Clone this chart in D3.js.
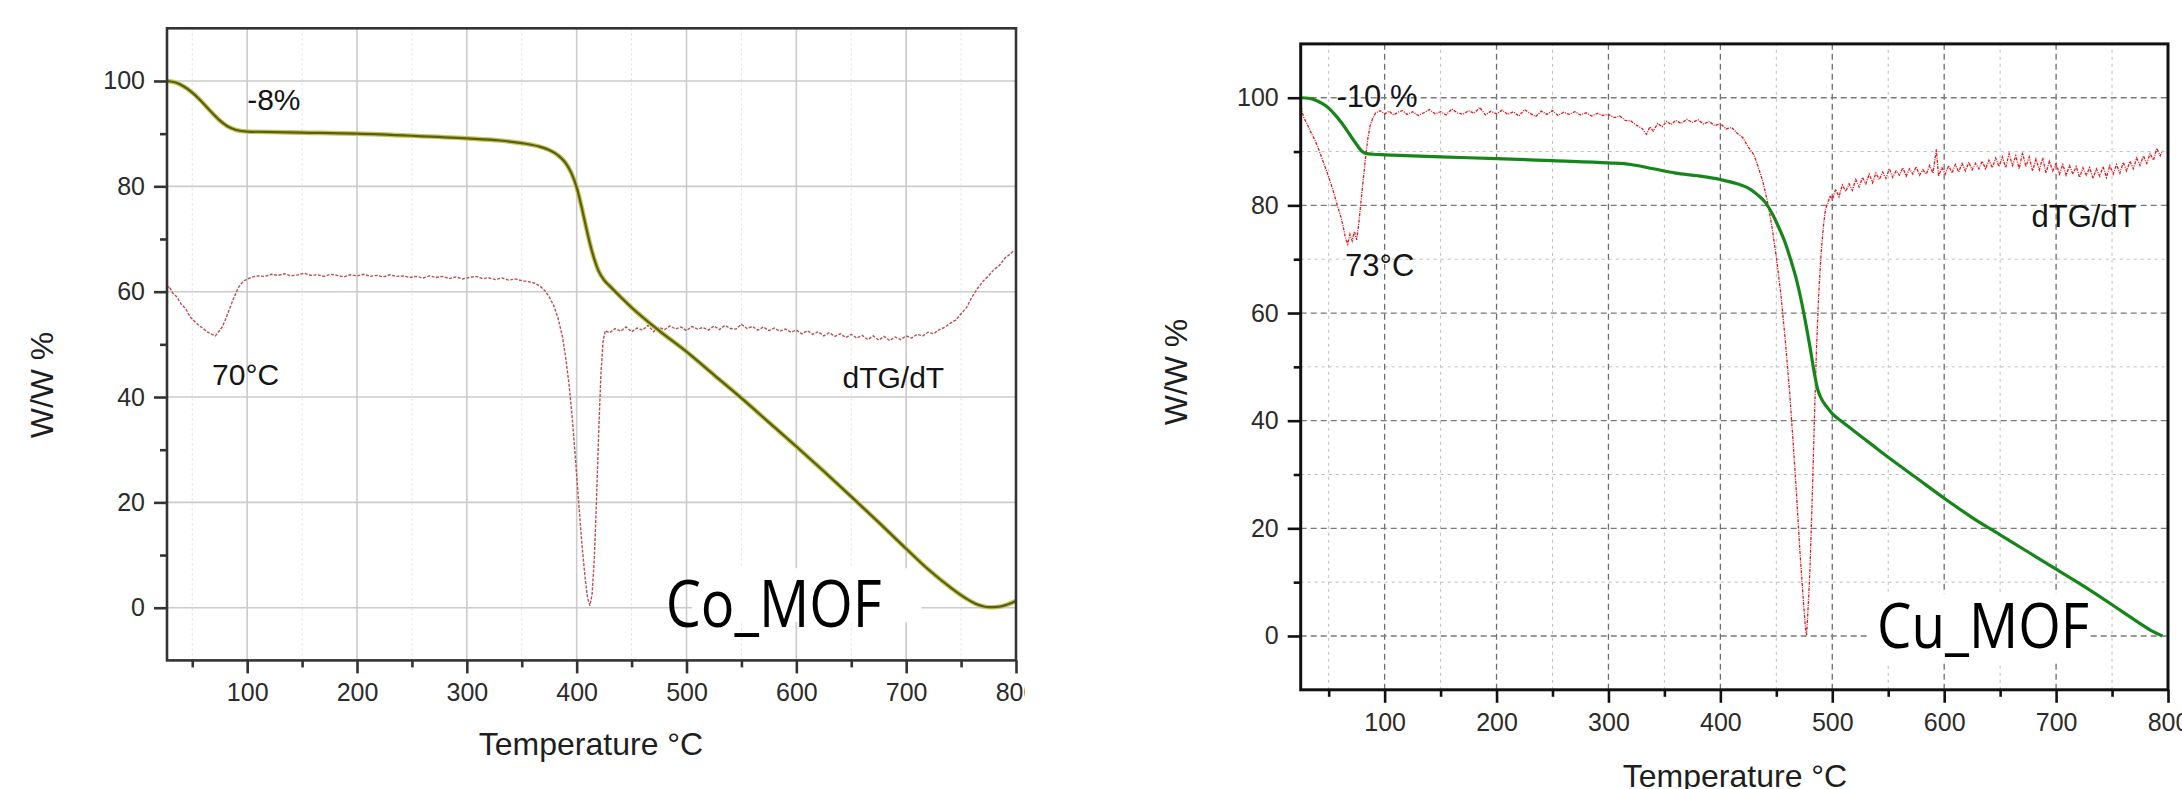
<!DOCTYPE html>
<html>
<head>
<meta charset="utf-8">
<script src="https://cdn.jsdelivr.net/npm/d3@7"></script>
<style>
  html, body { margin: 0; padding: 0; background: #fff; }
  svg { display: block; }
</style>
</head>
<body>
<div id="app"></div>
<script>
// ---- data ----
const xMajor = [100, 200, 300, 400, 500, 600, 700, 800]
const xMinor = [50, 150, 250, 350, 450, 550, 650, 750]
const yMajor = [0, 20, 40, 60, 80, 100]
const yMinor = [10, 30, 50, 70, 90]

// Co_MOF weight loss (T in C, W/W %)
const coTG = [[27,100],[35,99.7],[42,99.0],[50,97.8],[58,96.2],[66,94.4],[74,92.7],[82,91.4],[90,90.7],[100,90.4],[125,90.3],[150,90.2],[200,90.0],[250,89.6],[300,89.1],[330,88.7],[350,88.2],[365,87.6],[375,86.9],[383,85.9],[390,84.4],[395,82.6],[400,79.8],[404,76.5],[408,72.8],[412,69.2],[416,66.2],[420,63.9],[425,62.2],[430,61.1],[440,59.0],[450,57.0],[475,52.6],[500,48.6],[525,44.2],[550,39.8],[575,35.2],[600,30.6],[625,25.9],[650,21.1],[675,16.2],[700,11.2],[720,7.3],[740,3.9],[755,1.7],[765,0.6],[775,0.1],[785,0.2],[792,0.6],[800,1.3]]

// Co_MOF derivative curve (scaled onto the same axis)
const coDTG = [[27,60.6],[29,61.0],[32,59.8],[36,59.0],[40,57.6],[44,56.8],[48,55.2],[52,54.4],[56,53.6],[60,53.0],[64,52.3],[68,51.9],[71,51.6],[74,52.4],[77,53.2],[80,54.6],[84,56.8],[88,58.9],[92,60.8],[96,61.9],[100,62.4],[105,62.8],[110,63.0],[116,62.9],[122,63.3],[128,63.1],[134,63.4],[140,63.0],[146,63.2],[152,63.5],[158,63.1],[164,63.2],[170,62.9],[176,63.3],[182,63.1],[188,62.8],[194,63.2],[200,63.0],[206,63.3],[212,62.9],[218,63.1],[224,62.8],[230,63.2],[236,62.9],[242,63.0],[248,62.7],[254,62.9],[260,62.6],[266,63.0],[272,62.7],[278,62.9],[284,62.5],[290,62.8],[296,62.4],[302,62.7],[308,62.9],[314,62.5],[320,62.6],[326,62.3],[332,62.6],[338,62.2],[344,62.4],[350,62.1],[356,61.9],[362,61.6],[367,61.0],[371,60.2],[375,59.0],[379,57.4],[383,55.0],[387,51.5],[390,47.5],[393,42.5],[396,36.0],[399,28.0],[402,19.5],[405,11.5],[408,5.0],[410,1.8],[412,0.4],[414,2.5],[416,9.0],[418,20.0],[420,33.0],[422,44.0],[424,50.5],[426,52.6],[430,52.2],[435,53.0],[440,52.5],[445,53.3],[450,52.4],[455,53.1],[460,52.7],[465,53.6],[470,52.4],[475,53.2],[480,52.8],[485,53.5],[490,52.9],[495,53.3],[500,52.6],[505,53.4],[510,52.9],[515,53.2],[520,52.7],[525,53.5],[530,52.8],[535,53.6],[540,53.0],[545,52.9],[550,53.8],[555,53.0],[560,53.4],[565,52.7],[570,53.3],[575,52.6],[580,53.1],[585,52.5],[590,52.9],[595,52.3],[600,52.7],[605,52.0],[610,52.6],[615,51.9],[620,52.4],[625,51.6],[630,52.2],[635,51.5],[640,52.0],[645,51.3],[650,51.9],[655,51.2],[660,51.7],[665,50.9],[670,51.6],[675,50.8],[680,51.5],[685,50.7],[690,51.4],[695,50.9],[700,51.6],[705,51.2],[710,51.9],[715,51.6],[720,52.3],[725,52.0],[730,52.8],[735,53.2],[740,54.0],[745,54.6],[750,55.8],[755,57.0],[760,59.0],[765,60.6],[770,62.0],[775,63.0],[780,64.2],[785,65.0],[790,66.4],[795,67.2],[798,67.8]]

// Cu_MOF weight loss
const cuTG = [[25,100],[32,99.9],[40,99.4],[48,98.4],[55,97.0],[62,95.2],[68,93.4],[74,91.6],[80,90.0],[84,89.6],[90,89.5],[100,89.4],[150,89.0],[200,88.7],[250,88.3],[300,87.9],[320,87.6],[340,86.8],[360,86.0],[380,85.5],[400,84.8],[415,84.0],[425,83.2],[433,82.0],[440,80.6],[446,78.6],[452,76.0],[458,73.0],[463,69.8],[468,66.2],[472,62.6],[476,58.4],[480,53.8],[484,48.8],[487,45.8],[490,44.2],[495,42.6],[500,41.3],[510,39.6],[520,38.0],[535,35.6],[550,33.2],[575,29.4],[600,25.6],[625,22.0],[650,18.8],[675,15.6],[700,12.4],[725,9.2],[750,5.8],[770,3.0],[785,1.0],[795,0]]

// Cu_MOF derivative curve
const cuDTG = [[25,99.5],[26,97.5],[28,96.2],[31,95.0],[34,93.6],[37,92.4],[40,91.0],[43,89.3],[46,87.6],[49,85.9],[52,84.0],[55,82.0],[58,79.8],[61,77.8],[63,76.0],[65,74.0],[67,72.8],[69,74.6],[71,73.4],[73,75.2],[75,73.6],[77,76.8],[79,81.0],[81,85.0],[83,89.0],[85,92.4],[87,94.8],[89,96.0],[92,97.2],[96,97.6],[100,97.0],[104,97.5],[108,96.8],[112,97.3],[116,97.6],[120,96.9],[125,97.4],[130,96.7],[135,97.2],[140,97.8],[145,97.0],[150,97.4],[155,96.8],[160,97.9],[165,97.2],[170,96.9],[175,97.6],[180,97.1],[185,98.2],[190,96.8],[195,97.5],[200,97.0],[205,97.7],[210,96.9],[215,97.4],[220,96.6],[225,97.8],[230,97.1],[235,96.5],[240,97.5],[245,96.9],[250,97.6],[255,96.7],[260,97.3],[265,96.9],[270,97.4],[275,96.8],[280,97.2],[285,96.6],[290,97.1],[295,96.7],[300,96.9],[305,96.3],[310,96.6],[315,95.8],[320,95.7],[325,94.9],[330,94.3],[334,93.2],[337,94.6],[340,93.8],[344,95.2],[348,94.6],[352,95.6],[356,95.0],[360,95.8],[365,95.2],[370,96.0],[375,95.4],[380,95.9],[385,95.1],[390,95.6],[395,94.8],[400,95.2],[405,94.2],[410,94.5],[415,93.4],[420,92.6],[425,90.8],[430,89.4],[434,87.0],[438,84.4],[442,80.8],[446,76.2],[450,70.4],[454,63.6],[458,55.0],[462,45.0],[465,36.0],[468,26.5],[471,16.0],[474,7.0],[476,1.5],[477,0.2],[478,3.5],[480,12.0],[482,25.0],[484,40.0],[486,54.0],[488,64.0],[490,71.0],[492,76.0],[494,79.4],[496,80.4],[498,81.8],[500,81.0],[503,83.0],[506,81.6],[509,83.8],[512,82.6],[515,84.0],[518,82.8],[521,84.8],[524,83.4],[527,85.2],[530,84.0],[533,85.8],[536,84.2],[539,86.0],[542,84.8],[545,86.2],[548,85.0],[551,86.8],[554,85.2],[557,86.4],[560,85.6],[563,87.0],[566,85.4],[569,86.8],[572,85.8],[575,87.2],[578,85.6],[581,86.6],[584,85.8],[587,87.4],[590,86.0],[593,90.4],[595,85.4],[598,87.0],[601,85.8],[604,87.4],[607,86.0],[610,87.6],[613,86.2],[616,87.8],[619,86.4],[622,88.0],[625,86.6],[628,87.8],[631,86.8],[634,88.2],[637,86.8],[640,88.4],[643,87.0],[646,88.8],[649,87.2],[652,89.0],[655,87.0],[658,89.6],[661,87.4],[664,89.2],[667,86.8],[670,89.8],[673,87.2],[676,89.0],[679,86.4],[682,88.6],[685,86.6],[688,88.8],[691,86.0],[694,88.2],[697,86.4],[700,87.8],[703,85.8],[706,87.6],[709,85.6],[712,87.4],[715,85.8],[718,87.2],[721,85.2],[724,87.0],[727,85.6],[730,87.0],[733,85.0],[736,86.8],[739,85.4],[742,87.2],[745,85.2],[748,87.4],[751,85.8],[754,87.6],[757,86.0],[760,88.0],[763,86.4],[766,88.2],[769,86.8],[772,88.8],[775,87.4],[778,89.2],[781,87.8],[784,89.6],[787,88.4],[790,90.6],[793,89.2],[795,90.2]]

// annotations: [text, T, W/W %]
const coNotes = [['-8%', 100, 94.4], ['70°C', 68, 42.3], ['dTG/dT', 642, 41.7]]
const cuNotes = [['-10 %', 57, 98.3], ['73°C', 64.6, 66.9], ['dTG/dT', 678, 76.0]]
const coName = ['Co_MOF', 481, -3.7]
const cuName = ['Cu_MOF', 540, -2.2]
const coMask = [505, 714, 7.5, -2.7]
const cuMask = [531, 728, 7.8, -4.8]

const W = 2182, H = 789
const svg = d3.select('#app').append('svg').attr('width', W).attr('height', H)

const panels = [
  {
    name: 'co', xDom: [27, 800], xRange: [167, 1016], yRange: [660.4, 28.3], clipW: 1025,
    tg: coTG, dtg: coDTG, notes: coNotes, label: coName, mask: coMask,
    tgUnder: '#c2c458', tgColor: '#5a5e10', tgWidth: 2.2,
    dtgColor: '#b9505c', dtgDash: '3,1.5', dtgWidth: 1.4,
    axisColor: '#333', axisWidth: 2.6,
    grid: 'solid', yTitle: [42, 385], xTitle: [591, 755],
    noteSize: 30, labelSize: 66, labelLen: 216
  },
  {
    name: 'cu', xDom: [25, 800], xRange: [1300.7, 2168], yRange: [689.8, 43.9], clipW: W,
    tg: cuTG, dtg: cuDTG, notes: cuNotes, label: cuName, mask: cuMask,
    tgUnder: null, tgColor: '#16861a', tgWidth: 3.2,
    dtgColor: '#e3161c', dtgDash: '3,1.2,1,1.2', dtgWidth: 1.3,
    axisColor: '#111', axisWidth: 3,
    grid: 'dash', yTitle: [1176, 372], xTitle: [1735, 787],
    noteSize: 31, labelSize: 62, labelLen: 212
  }
]

const drawPanel = function (p) {
  svg.append('clipPath').attr('id', 'clip-' + p.name)
    .append('rect').attr('x', 0).attr('y', 0).attr('width', p.clipW).attr('height', H)
  const g = svg.append('g').attr('clip-path', 'url(#clip-' + p.name + ')')

  const x = d3.scaleLinear().domain(p.xDom).range(p.xRange)
  const y = d3.scaleLinear().domain([-10, 110]).range(p.yRange)
  const [x0, x1] = p.xRange
  const [y0, y1] = p.yRange

  // grid
  const grid = g.append('g')
  if (p.grid === 'solid') {
    grid.selectAll('.gvm').data(xMinor).enter().append('line')
      .attr('x1', d => x(d)).attr('x2', d => x(d)).attr('y1', y0).attr('y2', y1)
      .attr('stroke', '#dedede').attr('stroke-width', 1).attr('stroke-dasharray', '2,3')
    grid.selectAll('.gv').data(xMajor.filter(d => d < 800)).enter().append('line')
      .attr('x1', d => x(d)).attr('x2', d => x(d)).attr('y1', y0).attr('y2', y1)
      .attr('stroke', '#cbcbcb').attr('stroke-width', 1.6)
    grid.selectAll('.gh').data(yMajor).enter().append('line')
      .attr('x1', x0).attr('x2', x1).attr('y1', d => y(d)).attr('y2', d => y(d))
      .attr('stroke', '#cbcbcb').attr('stroke-width', 1.6)
  } else {
    grid.selectAll('.gvm').data(xMinor).enter().append('line')
      .attr('x1', d => x(d)).attr('x2', d => x(d)).attr('y1', y0).attr('y2', y1)
      .attr('stroke', '#bdbdbd').attr('stroke-width', 1).attr('stroke-dasharray', '3,4')
    grid.selectAll('.ghm').data(yMinor).enter().append('line')
      .attr('x1', x0).attr('x2', x1).attr('y1', d => y(d)).attr('y2', d => y(d))
      .attr('stroke', '#bdbdbd').attr('stroke-width', 1).attr('stroke-dasharray', '3,4')
    grid.selectAll('.gv').data(xMajor.filter(d => d < 800)).enter().append('line')
      .attr('x1', d => x(d)).attr('x2', d => x(d)).attr('y1', y0).attr('y2', y1)
      .attr('stroke', '#6e6e6e').attr('stroke-width', 1.3).attr('stroke-dasharray', '6,4')
    grid.selectAll('.gh').data(yMajor).enter().append('line')
      .attr('x1', x0).attr('x2', x1).attr('y1', d => y(d)).attr('y2', d => y(d))
      .attr('stroke', '#7a7a7a').attr('stroke-width', 1.3).attr('stroke-dasharray', '6,4')
  }

  // white patch behind the sample name
  const m = p.mask
  g.append('rect')
    .attr('x', x(m[0])).attr('width', x(m[1]) - x(m[0]))
    .attr('y', y(m[2])).attr('height', y(m[3]) - y(m[2]))
    .attr('fill', '#fff')

  const line = d3.line().x(d => x(d[0])).y(d => y(d[1]))

  g.append('path').datum(p.dtg).attr('d', line)
    .attr('fill', 'none').attr('stroke', p.dtgColor)
    .attr('stroke-width', p.dtgWidth).attr('stroke-dasharray', p.dtgDash)

  const tgLine = d3.line().curve(d3.curveMonotoneX).x(d => x(d[0])).y(d => y(d[1]))
  if (p.tgUnder) {
    g.append('path').datum(p.tg).attr('d', tgLine)
      .attr('fill', 'none').attr('stroke', p.tgUnder).attr('stroke-width', 4.6)
  }
  g.append('path').datum(p.tg).attr('d', tgLine)
    .attr('fill', 'none').attr('stroke', p.tgColor).attr('stroke-width', p.tgWidth)

  // frame
  g.append('rect').attr('x', x0).attr('y', y1).attr('width', x1 - x0).attr('height', y0 - y1)
    .attr('fill', 'none').attr('stroke', p.axisColor).attr('stroke-width', p.axisWidth)

  // axes
  const styleAxis = function (sel) {
    sel.select('.domain').remove()
    sel.selectAll('line').attr('stroke', p.axisColor).attr('stroke-width', 2.6)
    sel.selectAll('text').attr('fill', '#2b2b2b')
      .style('font-family', '"Liberation Sans", Arial, sans-serif').style('font-size', '25px')
  }
  g.append('g').attr('transform', 'translate(0,' + y0 + ')')
    .call(d3.axisBottom(x).tickValues(xMinor).tickSize(7).tickFormat(''))
    .call(styleAxis)
  g.append('g').attr('transform', 'translate(0,' + y0 + ')')
    .call(d3.axisBottom(x).tickValues(xMajor).tickSize(13).tickPadding(10).tickFormat(d3.format('d')))
    .call(styleAxis)
  g.append('g').attr('transform', 'translate(' + x0 + ',0)')
    .call(d3.axisLeft(y).tickValues(yMinor).tickSize(7).tickFormat(''))
    .call(styleAxis)
  g.append('g').attr('transform', 'translate(' + x0 + ',0)')
    .call(d3.axisLeft(y).tickValues(yMajor).tickSize(13).tickPadding(9).tickFormat(d3.format('d')))
    .call(styleAxis)

  // axis titles
  g.append('text')
    .attr('transform', 'translate(' + p.yTitle[0] + ',' + p.yTitle[1] + ') rotate(-90)')
    .attr('text-anchor', 'middle').attr('dy', '0.35em')
    .style('font-family', '"Liberation Sans", Arial, sans-serif').style('font-size', '32px')
    .attr('fill', '#1e1e1e').text('W/W %')
  g.append('text')
    .attr('x', p.xTitle[0]).attr('y', p.xTitle[1])
    .attr('text-anchor', 'middle')
    .style('font-family', '"Liberation Sans", Arial, sans-serif').style('font-size', '32px')
    .attr('fill', '#1e1e1e').text('Temperature °C')

  // annotations
  g.selectAll('.note').data(p.notes).enter().append('text')
    .attr('x', d => x(d[1])).attr('y', d => y(d[2]))
    .style('font-family', '"Liberation Sans", Arial, sans-serif').style('font-size', p.noteSize + 'px')
    .attr('fill', '#151515').text(d => d[0])

  g.append('text')
    .attr('x', x(p.label[1])).attr('y', y(p.label[2]))
    .attr('textLength', p.labelLen).attr('lengthAdjust', 'spacingAndGlyphs')
    .style('font-family', '"Open Sans", "Noto Sans", sans-serif').style('font-size', p.labelSize + 'px')
    .attr('fill', '#000').text(p.label[0])
}

panels.forEach(drawPanel)
</script>
</body>
</html>
